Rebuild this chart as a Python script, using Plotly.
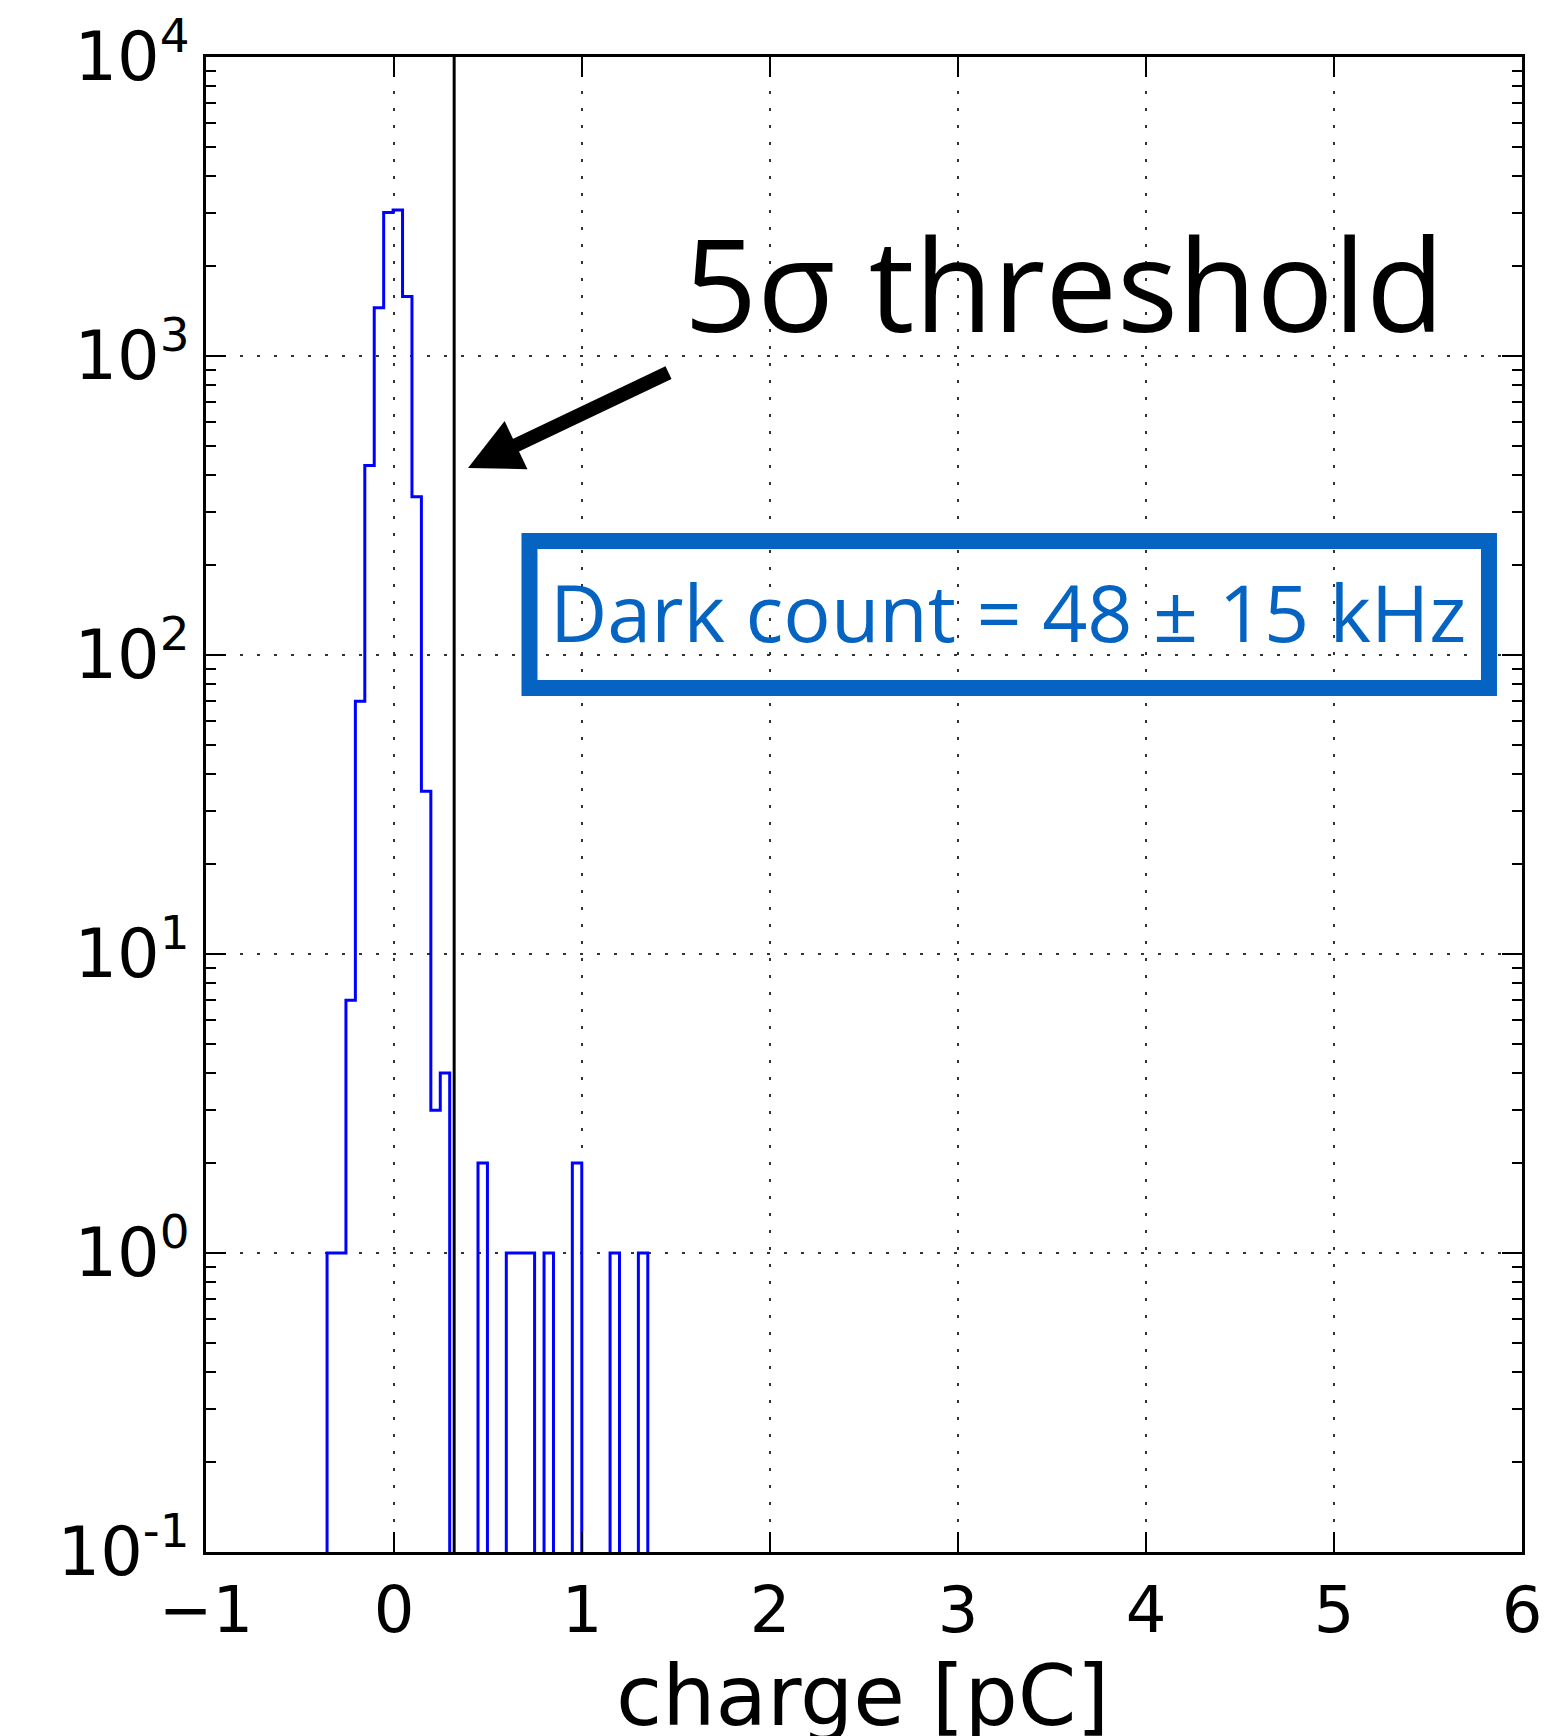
import numpy as np
import plotly.graph_objects as go

# Charge histogram of dark pulses (counts per bin)
bin_edges = np.linspace(-0.356, 1.350, 35)
counts = [1, 1, 7, 70, 430, 1450, 3020, 3080, 1580, 338, 35, 3, 4,
          0, 0, 0, 2, 0, 0, 1, 1, 1, 0, 1, 0, 0, 2, 0, 0, 0, 1, 0, 0, 1]
threshold_pc = 0.32

y_tick_vals = [1e-1, 1e0, 1e1, 1e2, 1e3, 1e4]
y_tick_text = ["10<sup>-1</sup>", "10<sup>0</sup>", "10<sup>1</sup>",
               "10<sup>2</sup>", "10<sup>3</sup>", "10<sup>4</sup>"]
x_tick_vals = [-1, 0, 1, 2, 3, 4, 5, 6]

# step outline (histtype='step'); empty bins drop below the visible range
floor = 1e-3
sx, sy = [bin_edges[0]], [floor]
for i, c in enumerate(counts):
    h = c if c > 0 else floor
    sx += [bin_edges[i], bin_edges[i + 1]]
    sy += [h, h]
sx.append(bin_edges[-1])
sy.append(floor)

minor_vals = [m * 10.0 ** p for p in range(-1, 4) for m in range(2, 10)]

fig = go.Figure()
fig.add_trace(go.Scatter(x=sx, y=sy, mode="lines",
                         line=dict(color="#0000ff", width=3),
                         hoverinfo="skip", showlegend=False))

fig.add_shape(type="line", xref="x", yref="paper",
              x0=threshold_pc, x1=threshold_pc, y0=0, y1=1,
              line=dict(color="black", width=3))

# blue frame around the dark-count label
fig.add_shape(type="rect", xref="paper", yref="paper",
              x0=0.2458, x1=0.9749, y0=0.5779, y1=0.6763,
              line=dict(color="#0563C1", width=16), fillcolor="rgba(0,0,0,0)")

fig.add_annotation(text="Dark count = 48 ± 15 kHz", xref="paper", yref="paper",
                   x=0.6098, y=0.629, xanchor="center", yanchor="middle",
                   showarrow=False,
                   font=dict(family="Open Sans", size=79, color="#0563C1"))

fig.add_annotation(text="5σ threshold", xref="paper", yref="paper",
                   x=0.3615, y=0.849, xanchor="left", yanchor="middle",
                   showarrow=False,
                   font=dict(family="Open Sans", size=128, color="black"))

# arrow pointing at the threshold line
fig.add_annotation(text="", xref="paper", yref="paper",
                   x=0.1991, y=0.7251, ax=202, ay=-96,
                   showarrow=True, arrowhead=2, arrowsize=0.76,
                   arrowwidth=14, arrowcolor="black")

fig.add_annotation(text="charge [pC]", xref="paper", yref="paper",
                   x=0.4985, y=-0.0625, xanchor="center", yanchor="top",
                   showarrow=False,
                   font=dict(family="DejaVu Sans", size=84, color="black"))

axis_common = dict(showline=True, linecolor="black", linewidth=3,
                   mirror="allticks", ticks="inside", ticklen=20,
                   tickwidth=2, tickcolor="black",
                   showgrid=True, gridcolor="#333333", gridwidth=1.5,
                   griddash="3px,14px", zeroline=False)

fig.update_xaxes(range=[-1, 6], tickvals=x_tick_vals,
                 tickfont=dict(family="DejaVu Sans", size=64, color="black"),
                 **axis_common)
fig.update_yaxes(type="log", range=[-1, 4], tickvals=y_tick_vals,
                 ticktext=y_tick_text,
                 tickfont=dict(family="DejaVu Sans", size=67, color="black"),
                 minor=dict(tickvals=minor_vals, ticks="inside", ticklen=10,
                            tickwidth=2, tickcolor="black", showgrid=False),
                 **axis_common)

fig.update_layout(width=1551, height=1736,
                  margin=dict(l=206, r=29, t=57, b=184, autoexpand=False),
                  paper_bgcolor="white", plot_bgcolor="white",
                  showlegend=False)

fig.write_html("out.html")
